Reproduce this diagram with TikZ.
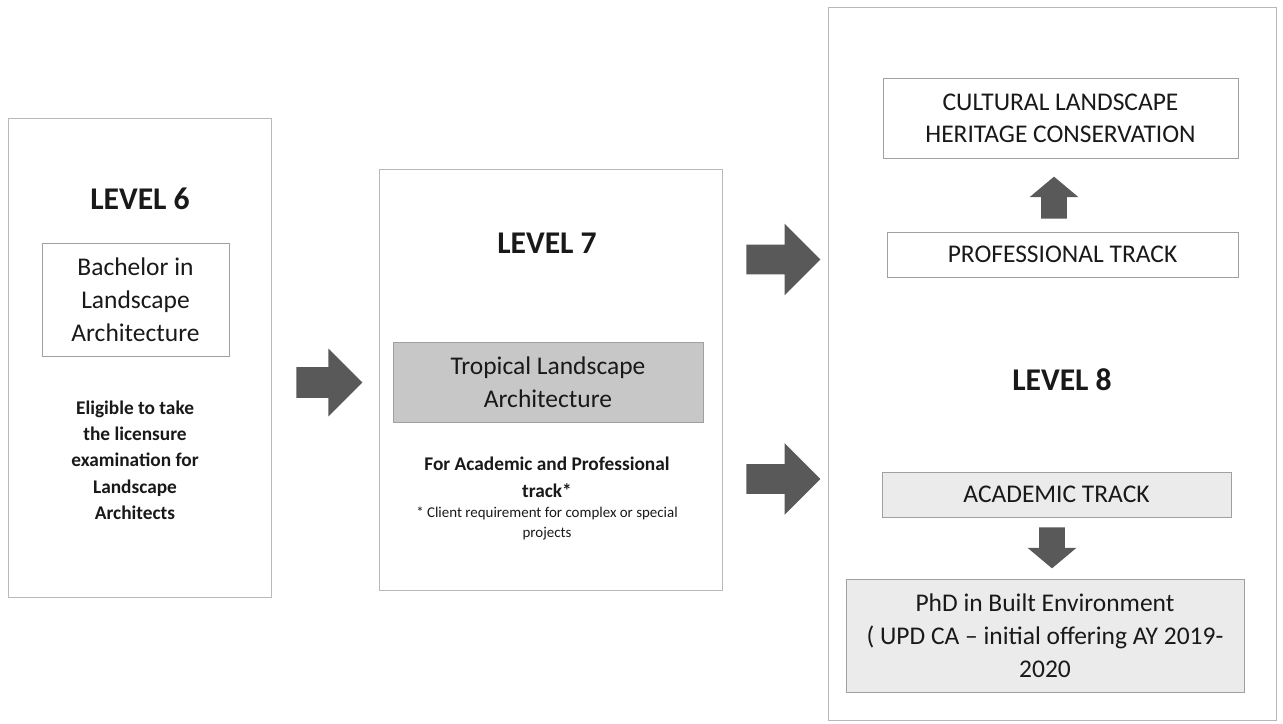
\documentclass[tikz,border=0pt]{standalone}
\usepackage{fontspec}
\setmainfont{Carlito}
\usepackage{xcolor}
\usetikzlibrary{shapes.arrows}

\definecolor{framegray}{HTML}{B8B8B8}
\definecolor{boxgray}{HTML}{A0A0A0}
\definecolor{arrowgray}{HTML}{595959}

\begin{document}
\begin{tikzpicture}[
  x=0.02cm, y=-0.02cm,
  level/.style={draw=framegray, fill=white, inner sep=0pt},
  course/.style={draw=boxgray, inner sep=0pt, align=center, text=black!90},
  title/.style={font=\fontsize{18}{21}\selectfont\bfseries, text=black!90},
  note/.style={align=center, text=black!90},
  block/.style={single arrow, fill=arrowgray, draw=none, inner sep=0.3cm,
    single arrow head extend=0.37cm, anchor=tail}
]
\useasboundingbox (0,0) rectangle (1283,723);

% frames of the three levels
\node[level, minimum width=5.26cm, minimum height=9.58cm] (six) at (139.5,357.5) {};
\node[level, minimum width=6.86cm, minimum height=8.42cm] (seven) at (550.5,379.5) {};
\node[level, minimum width=8.96cm, minimum height=14.26cm] (eight) at (1052,363.5) {};

% level 6
\node[title] (lvsix) at (140,199) {LEVEL 6};
\node[course, minimum width=3.74cm, minimum height=2.26cm,
  font=\fontsize{14.5}{18.8}\selectfont] (bachelor) at (135.5,299.5)
  {Bachelor in\\Landscape\\Architecture};
\node[note, font=\fontsize{11}{15}\selectfont\bfseries] (eligible) at (135,460)
  {Eligible to take\\the licensure\\examination for\\Landscape\\Architects};

% level 7
\node[title] (lvseven) at (547,243) {LEVEL 7};
\node[course, fill=black!22, minimum width=6.2cm, minimum height=1.6cm,
  font=\fontsize{14.5}{18.8}\selectfont] (tropical) at (548,382)
  {Tropical Landscape\\Architecture};
\node[note, font=\fontsize{11}{15.4}\selectfont\bfseries] (both) at (547,477)
  {For Academic and Professional\\track*};
\node[note, font=\fontsize{8.5}{11.4}\selectfont] (client) at (547,523)
  {* Client requirement for complex or special\\projects};

% level 8
\node[course, minimum width=7.1cm, minimum height=1.6cm,
  font=\fontsize{14.5}{18.2}\selectfont] (heritage) at (1060.5,118)
  {CULTURAL LANDSCAPE\\HERITAGE CONSERVATION};
\node[course, minimum width=7.02cm, minimum height=0.9cm,
  font=\fontsize{14.5}{18.2}\selectfont] (prof) at (1062.5,254.5) {PROFESSIONAL TRACK};
\node[title] (lveight) at (1062,380) {LEVEL 8};
\node[course, fill=black!8, minimum width=6.98cm, minimum height=0.9cm,
  font=\fontsize{14.5}{18.2}\selectfont] (acad) at (1056.5,494.5) {ACADEMIC TRACK};
\node[course, fill=black!8, minimum width=7.96cm, minimum height=2.26cm,
  font=\fontsize{14.5}{18.8}\selectfont] (phd) at (1045,635.5)
  {PhD in Built Environment\\( UPD CA -- initial offering AY 2019-\\2020};

% block arrows
\node[block, minimum height=1.32cm, minimum width=1.34cm] (sixseven) at (296,382.5) {};
\node[block, minimum height=1.48cm, minimum width=1.42cm, inner sep=0.29cm,
  single arrow head extend=0.42cm] (toprof) at (746,259.5) {};
\node[block, minimum height=1.48cm, minimum width=1.42cm, inner sep=0.29cm,
  single arrow head extend=0.42cm] (toacad) at (746,479) {};
\node[block, minimum height=0.84cm, minimum width=0.96cm, shape border rotate=90,
  inner sep=0.25cm, single arrow head extend=0.23cm,
  single arrow tip angle=100] (up) at (1054,219) {};
\node[block, minimum height=0.82cm, minimum width=0.96cm, shape border rotate=270,
  inner sep=0.25cm, single arrow head extend=0.23cm,
  single arrow tip angle=100] (down) at (1052,527) {};
\end{tikzpicture}
\end{document}
